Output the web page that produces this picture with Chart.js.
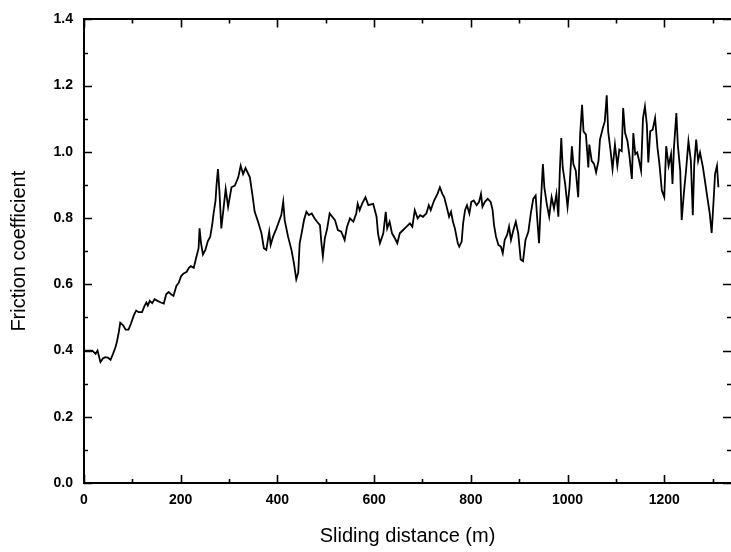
<!DOCTYPE html>
<html>
<head>
<meta charset="utf-8">
<script src="https://cdn.jsdelivr.net/npm/chart.js@4.4.1/dist/chart.umd.min.js"></script>
<style>
  html, body { margin: 0; padding: 0; background: #fff; }
  #wrap { position: relative; width: 731px; height: 552px; }
</style>
</head>
<body>
<div id="wrap"><canvas id="c" width="731" height="552"></canvas></div>
<script>
// Sliding distance (m)
const distance = [
  0,10,17,24,28,34,39,44,49,55,60,65,68,72,75,81,86,92,97,103,108,113,120,125,129,132,136,141,146,152,159,165,170,175,180,185,191,196,201,206,212,217,221,227,232,237,239,242,246,251,256,261,265,268,272,274,277,280,284,
  293,298,305,312,319,324,329,334,343,348,353,360,367,372,377,383,386,391,398,403,408,412,415,422,429,434,439,443,446,450,455,460,465,471,477,482,488,491,494,498,503,508,519,525,532,539,544,550,557,563,566,570,575,582,588,598,605,608,612,619,624,627,632,637,643,648,653,660,667,674,679,684,690,695,701,708,713,717,724,731,736,741,745,750,755,759,763,767,773,776,781,784,788,792,797,801,806,812,817,821,824,829,835,841,845,848,852,857,862,866,870,875,879,883,888,893,898,903,908,913,919,924,929,934,937,941,944,949,952,957,962,967,972,977,981,984,987,990,995,1000,1004,1009,1012,1017,1022,1026,1030,1033,1038,1043,1045,1050,1055,1059,1064,1067,1073,1077,1081,1084,1089,1093,1098,1103,1107,1112,1115,1119,1124,1128,1133,1136,1140,1144,1148,1152,1156,1160,1164,1167,1171,1176,1181,1186,1190,1195,1200,1204,1209,1214,1217,1220,1225,1228,1233,1236,1241,1245,1250,1255,1259,1262,1266,1270,1274,1280,1285,1289,1294,1298,1302,1305,1309,1312
];
// Friction coefficient
const friction = [
  0.40,0.40,0.40,0.39,0.40,0.365,0.376,0.38,0.379,0.372,0.39,0.41,0.426,0.456,0.484,0.476,0.463,0.463,0.481,0.506,0.521,0.516,0.516,0.534,0.545,0.536,0.55,0.543,0.555,0.55,0.545,0.542,0.57,0.577,0.57,0.565,0.595,0.605,0.625,0.633,0.637,0.65,0.655,0.65,0.68,0.709,0.769,0.724,0.69,0.704,0.73,0.744,0.779,0.814,0.853,0.898,0.948,0.883,0.769,
  0.888,0.834,0.893,0.898,0.923,0.958,0.933,0.951,0.923,0.873,0.819,0.789,0.754,0.709,0.704,0.759,0.719,0.744,0.769,0.789,0.809,0.849,0.794,0.744,0.704,0.665,0.615,0.635,0.724,0.754,0.794,0.819,0.809,0.814,0.799,0.789,0.779,0.724,0.685,0.739,0.769,0.814,0.794,0.764,0.759,0.734,0.774,0.799,0.789,0.814,0.843,0.824,0.843,0.863,0.839,0.843,0.804,0.754,0.724,0.754,0.819,0.769,0.789,0.754,0.739,0.724,0.754,0.764,0.774,0.784,0.774,0.824,0.799,0.809,0.804,0.814,0.839,0.824,0.853,0.873,0.893,0.873,0.863,0.834,0.804,0.819,0.789,0.769,0.724,0.714,0.729,0.784,0.824,0.839,0.814,0.849,0.853,0.839,0.849,0.873,0.834,0.849,0.858,0.849,0.824,0.779,0.744,0.719,0.714,0.694,0.734,0.749,0.774,0.734,0.764,0.789,0.754,0.675,0.67,0.734,0.759,0.814,0.858,0.868,0.804,0.724,0.824,0.963,0.893,0.843,0.804,0.863,0.829,0.873,0.804,0.943,1.042,0.953,0.903,0.834,0.893,1.017,0.963,0.943,0.863,1.052,1.142,1.062,1.052,0.953,1.022,0.973,0.963,0.938,0.973,1.037,1.072,1.092,1.171,1.062,1.002,0.948,1.022,0.958,1.007,1.002,1.132,1.057,1.032,0.987,0.918,1.057,0.993,0.998,0.973,0.943,1.102,1.137,1.082,0.968,1.062,1.067,1.102,1.012,0.963,0.883,0.863,1.017,0.958,0.993,0.903,1.012,1.117,1.022,0.943,0.794,0.883,0.943,1.032,0.973,0.809,0.963,1.037,0.973,0.998,0.953,0.903,0.863,0.814,0.755,0.853,0.933,0.958,0.893
];
const xTickValues = [0, 200, 400, 600, 800, 1000, 1200];
const yTickValues = [0.0, 0.2, 0.4, 0.6, 0.8, 1.0, 1.2, 1.4];
const xTitle = 'Sliding distance (m)';
const yTitle = 'Friction coefficient';

const points = distance.map((d, i) => ({ x: d, y: friction[i] }));

const inwardTicks = {
  id: 'inwardTicks',
  afterDraw(chart) {
    const { ctx, chartArea: a, scales } = chart;
    const xs = scales.x, ys = scales.y;
    ctx.save();
    ctx.strokeStyle = '#000';
    ctx.lineWidth = 1.6;
    const xStep = xTickValues[1] - xTickValues[0];
    ctx.beginPath();
    for (let v = xTickValues[0]; v <= xs.max; v += xStep / 2) {
      const major = Math.abs((v / xStep) - Math.round(v / xStep)) < 1e-6;
      const L = major ? 8 : 4;
      const px = Math.round(xs.getPixelForValue(v)) + 0.5;
      ctx.moveTo(px, a.bottom); ctx.lineTo(px, a.bottom - L);
      ctx.moveTo(px, a.top); ctx.lineTo(px, a.top + L);
    }
    const yStep = yTickValues[1] - yTickValues[0];
    for (let k = 0; k <= Math.round((ys.max - ys.min) / (yStep / 2)); k++) {
      const v = ys.min + k * yStep / 2;
      const L = (k % 2 === 0) ? 8 : 4;
      const py = Math.round(ys.getPixelForValue(v)) + 0.5;
      ctx.moveTo(a.left, py); ctx.lineTo(a.left + L, py);
      ctx.moveTo(a.right, py); ctx.lineTo(a.right - L, py);
    }
    ctx.stroke();
    ctx.restore();
  }
};

new Chart(document.getElementById('c'), {
  type: 'line',
  data: {
    datasets: [{
      data: points,
      borderColor: '#000',
      borderWidth: 1.8,
      pointRadius: 0,
      tension: 0,
      fill: false
    }]
  },
  options: {
    responsive: false,
    animation: false,
    events: [],
    layout: { padding: { left: 0, right: 0, top: 0, bottom: 0 } },
    plugins: { legend: { display: false }, tooltip: { enabled: false } },
    scales: {
      x: {
        type: 'linear', position: 'bottom', min: 0, max: 1338,
        afterBuildTicks: s => { s.ticks = xTickValues.map(v => ({ value: v })); },
        afterFit: s => { s.height = 69; },
        grid: { display: false, drawTicks: false },
        border: { display: true, color: '#000', width: 2 },
        ticks: {
          color: '#000', padding: 9, maxRotation: 0, autoSkip: false,
          font: { family: 'Liberation Sans, Arial, sans-serif', size: 14, weight: 'bold' },
          callback: v => String(v)
        },
        title: {
          display: true, text: xTitle, color: '#000',
          font: { family: 'Liberation Sans, Arial, sans-serif', size: 20 },
          padding: { top: 0, bottom: 4 }
        }
      },
      x2: {
        type: 'linear', position: 'top', min: 0, max: 1338,
        afterFit: s => { s.height = 13; },
        grid: { display: false, drawTicks: false },
        border: { display: true, color: '#000', width: 2 },
        ticks: { display: false }
      },
      y: {
        type: 'linear', position: 'left', min: 0, max: 1.4,
        afterBuildTicks: s => { s.ticks = yTickValues.map(v => ({ value: v })); },
        afterFit: s => { s.width = 84; },
        grid: { display: false, drawTicks: false },
        border: { display: true, color: '#000', width: 2 },
        ticks: {
          color: '#000', padding: 11, autoSkip: false,
          font: { family: 'Liberation Sans, Arial, sans-serif', size: 14, weight: 'bold' },
          callback: v => Number(v).toFixed(1)
        },
        title: {
          display: true, text: yTitle, color: '#000',
          font: { family: 'Liberation Sans, Arial, sans-serif', size: 20 },
          padding: { top: 7, bottom: 0 }
        }
      }
    }
  },
  plugins: [inwardTicks]
});
</script>
</body>
</html>
